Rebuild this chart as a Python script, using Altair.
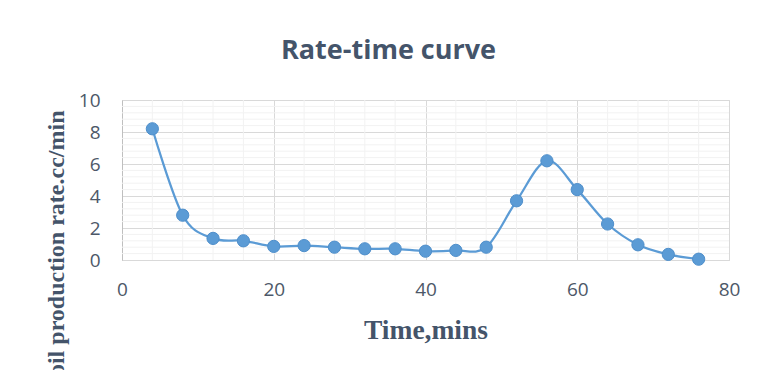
import altair as alt
import pandas as pd

time_min = [4, 8, 12, 16, 20, 24, 28, 32, 36, 40, 44, 48, 52, 56, 60, 64, 68, 72, 76]
rate = [8.2, 2.8, 1.35, 1.2, 0.85, 0.9, 0.8, 0.7, 0.7, 0.55, 0.6, 0.8, 3.7, 6.2, 4.4, 2.25, 0.95, 0.35, 0.05]

x_major = [0, 20, 40, 60, 80]
y_major = [0, 2, 4, 6, 8, 10]
x_minor = [4, 8, 12, 16, 24, 28, 32, 36, 44, 48, 52, 56, 64, 68, 72, 76]
y_minor = [0.4, 0.8, 1.2, 1.6, 2.4, 2.8, 3.2, 3.6, 4.4, 4.8, 5.2, 5.6,
           6.4, 6.8, 7.2, 7.6, 8.4, 8.8, 9.2, 9.6]

df = pd.DataFrame({"t": time_min, "r": rate})
dfx = pd.DataFrame({"gx": x_minor})
dfy = pd.DataFrame({"gy": y_minor})

label_font = "Open Sans"
label_color = "#4D5868"
title_color = "#44546A"

xscale = alt.Scale(domain=[0, 80], nice=False, zero=True)
yscale = alt.Scale(domain=[0, 10], nice=False, zero=True)

x_axis = alt.Axis(
    values=x_major, grid=True, gridColor="#D9D9D9", ticks=False,
    domain=True, domainColor="#D9D9D9", labelFlush=False,
    labelFont=label_font, labelFontSize=19, labelColor=label_color, labelPadding=20,
    title="Time,mins", titleFont="Liberation Serif", titleFontSize=27.5,
    titleFontWeight="bold", titleColor=title_color,
    titleY=78, titleBaseline="alphabetic",
)
y_axis = alt.Axis(
    values=y_major, grid=True, gridColor="#D9D9D9", ticks=False,
    domain=True, domainColor="#BFBFBF", labelFlush=False,
    labelFont=label_font, labelFontSize=19, labelColor=label_color, labelPadding=22,
    title="oil production rate.cc/min", titleFont="Liberation Serif", titleFontSize=24,
    titleFontWeight="bold", titleColor=title_color,
    titleAngle=-90, titleAlign="right", titleBaseline="alphabetic",
    titleX=-59, titleY=10,
)

minor_v = alt.Chart(dfx).mark_rule(color="#F2F2F2", strokeWidth=1).encode(
    x=alt.X("gx:Q", scale=xscale, axis=x_axis)
)
minor_h = alt.Chart(dfy).mark_rule(color="#F2F2F2", strokeWidth=1).encode(
    y=alt.Y("gy:Q", scale=yscale, axis=y_axis)
)

line = alt.Chart(df).mark_line(
    color="#5B9BD5", strokeWidth=2.25, interpolate="cardinal"
).encode(
    x=alt.X("t:Q", scale=xscale, axis=x_axis),
    y=alt.Y("r:Q", scale=yscale, axis=y_axis),
)
points = alt.Chart(df).mark_circle(
    size=150, color="#5B9BD5", opacity=1, stroke="#4F8FCB", strokeWidth=1
).encode(
    x=alt.X("t:Q", scale=xscale, axis=x_axis),
    y=alt.Y("r:Q", scale=yscale, axis=y_axis),
)

chart = alt.layer(minor_v, minor_h, line, points).properties(
    width=607,
    height=160,
    autosize=alt.AutoSizeParams(type="none"),
    padding={"left": 114, "top": 92, "right": 22, "bottom": 130},
    title=alt.TitleParams(
        "Rate-time curve", font="Open Sans", fontSize=27, fontWeight="bold",
        color=title_color, anchor="middle", dx=-37, offset=26,
    ),
).configure_view(stroke="#D9D9D9", strokeWidth=1)

chart.save("out.html", embed_options={"renderer": "svg", "actions": False})
